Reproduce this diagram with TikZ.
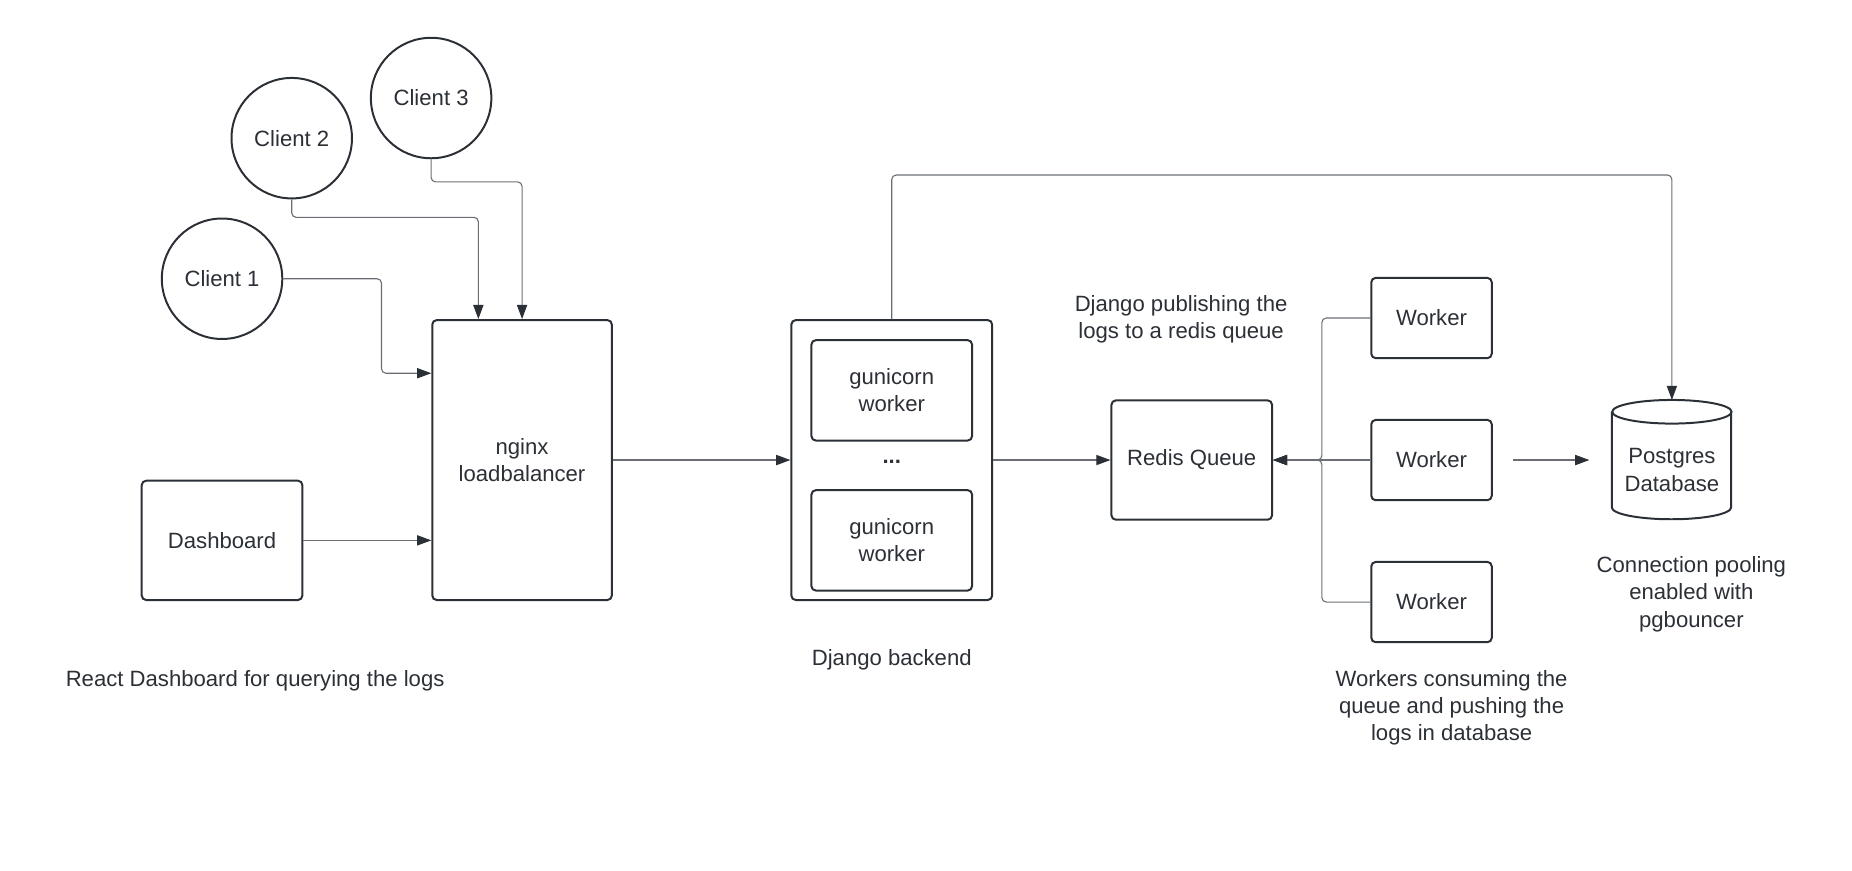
\documentclass[tikz,border=0pt]{standalone}
\usepackage{fontspec}
\setmainfont{Liberation Sans}
\usetikzlibrary{arrows.meta,positioning}
\definecolor{ink}{HTML}{2B2F36}
\definecolor{wire}{HTML}{6A6E74}
\newcommand{\px}{0.534pt}

\begin{document}
\begin{tikzpicture}[x=\px,y=\px,node distance=27pt,
    font=\fontsize{10pt}{12.3pt}\selectfont,text=ink,
    box/.style={draw=ink,line width=0.9pt,rounded corners=2pt,align=center,inner sep=0pt},
    worker/.style={box,minimum width=102*\px,minimum height=68*\px},
    client/.style={circle,draw=ink,line width=0.9pt,minimum size=102*\px,inner sep=0pt},
    note/.style={align=center,inner sep=0pt},
    link/.style={wire,line width=0.5pt,rounded corners=2pt,-{Triangle[length=6.4pt,width=4.6pt,color=ink]}}]
\useasboundingbox (0,0) rectangle (1568,-736.6);

\node[client] (C_1) at (188,-236) {Client 1};
\node[client] (C_2) at (247,-117) {Client 2};
\node[client] (C_3) at (365,-83) {Client 3};
\node[box,minimum width=152*\px,minimum height=237*\px] (LB) at (442,-389.5) {nginx\\loadbalancer};
\node[box,minimum width=136*\px,minimum height=101*\px] (DASH) at (188,-457.5) {Dashboard};

\node[box,minimum width=170*\px,minimum height=237*\px] (DJ) at (755,-389.5) {};
\node[box,minimum width=136*\px,minimum height=85*\px] (G_1) at (755,-330.5) {gunicorn\\worker};
\node[note] (DOTS) at (755,-391) {\textbf{...}};
\node[box,minimum width=136*\px,minimum height=85*\px] (G_2) at (755,-457.5) {gunicorn\\worker};

\node[box,minimum width=136*\px,minimum height=101*\px] (RQ) at (1009,-389.5) {Redis Queue};
\node[worker] (W_2) at (1212,-389.5) {Worker};
\node[worker] (W_1) [above=of W_2] {Worker};
\node[worker] (W_3) [below=of W_2] {Worker};

% postgres cylinder
\node[minimum width=101*\px,minimum height=101*\px,inner sep=0pt] (PG) at (1415.5,-389.5) {};
\draw[ink,line width=0.9pt] (PG.north west) ++(0,-10) -- ++(0,-81)
    arc[start angle=180,end angle=360,x radius=50.5,y radius=10] -- ++(0,81);
\draw[ink,line width=0.9pt] (PG.north) ++(0,-10) ellipse[x radius=50.5,y radius=10];
\node[note] (PG_T) at (1415.5,-398) {Postgres\\Database};

\node[note] (PUB) at (1000,-270) {Django publishing the\\logs to a redis queue};
\node[note] (REACT) at (216,-576) {React Dashboard for querying the logs};
\node[note] (DJ_L) at (755,-559) {Django backend};
\node[note] (W_L) at (1229,-599) {Workers consuming the\\queue and pushing the\\logs in database};
\node[note] (POOL) at (1432,-503) {Connection pooling\\enabled with\\pgbouncer};

\draw[link] (C_1.east) -| (323,-316) -- (323,-316 -| LB.west);
\draw[link] (C_2.south) |- (405,-184) -- (LB.north -| 405,0);
\draw[link] (C_3.south) |- (LB.north |- 0,-154) -- (LB.north);
\path[link] (DASH.east) edge (DASH.east -| LB.west)
    (LB) edge (DJ)
    (DJ) edge (RQ)
    (W_2) edge (RQ);
\draw[link] (DJ.north) -- ++(0,122) -| (PG.north);
\draw[link] (W_1.west) -- ++(-41,0) |- (RQ.east);
\draw[link] (W_3.west) -- ++(-41,0) |- (RQ.east);
\coordinate (OUT) at ([xshift=17*\px]W_2.east);
\coordinate (IN) at ([xshift=-19*\px]PG.west);
\path[link] (OUT) edge (IN);
\end{tikzpicture}
\end{document}
